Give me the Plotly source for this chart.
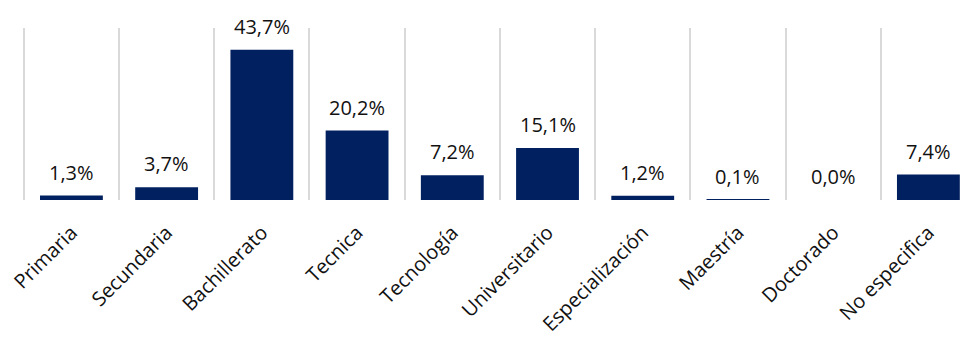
import plotly.graph_objects as go

niveles = ["Primaria", "Secundaria", "Bachillerato", "Tecnica", "Tecnología",
           "Universitario", "Especialización", "Maestría", "Doctorado", "No especifica"]
porcentajes = [1.3, 3.7, 43.7, 20.2, 7.2, 15.1, 1.2, 0.1, 0.0, 7.4]

etiquetas = [f"{v:.1f}%".replace(".", ",") for v in porcentajes]

fig = go.Figure(
    go.Bar(
        x=niveles,
        y=porcentajes,
        marker=dict(color="#002060", line=dict(width=0)),
        width=0.66,
        cliponaxis=False,
    )
)

# value labels sitting above each bar
for nivel, valor, etiqueta in zip(niveles, porcentajes, etiquetas):
    fig.add_annotation(
        x=nivel, y=valor, text=etiqueta,
        showarrow=False, yanchor="bottom", yshift=8,
        font=dict(family="Open Sans", size=20, color="#111111"),
    )

fig.update_layout(
    width=970,
    height=339,
    margin=dict(l=20, r=0, t=28, b=139),
    paper_bgcolor="white",
    plot_bgcolor="white",
    showlegend=False,
    font=dict(family="Open Sans", color="#111111"),
)

fig.update_xaxes(
    range=[-0.54, 9.437],
    tickson="boundaries",
    showgrid=True,
    gridcolor="#d9d9d9",
    gridwidth=1.5,
    ticks="",
    tickangle=-45,
    ticklabelstandoff=16,
    tickfont=dict(family="Open Sans", size=20, color="#111111"),
    showline=False,
    zeroline=False,
)

fig.update_yaxes(
    range=[0, 50],
    showgrid=False,
    showticklabels=False,
    zeroline=False,
    showline=False,
    ticks="",
)

fig.write_html("out.html")
